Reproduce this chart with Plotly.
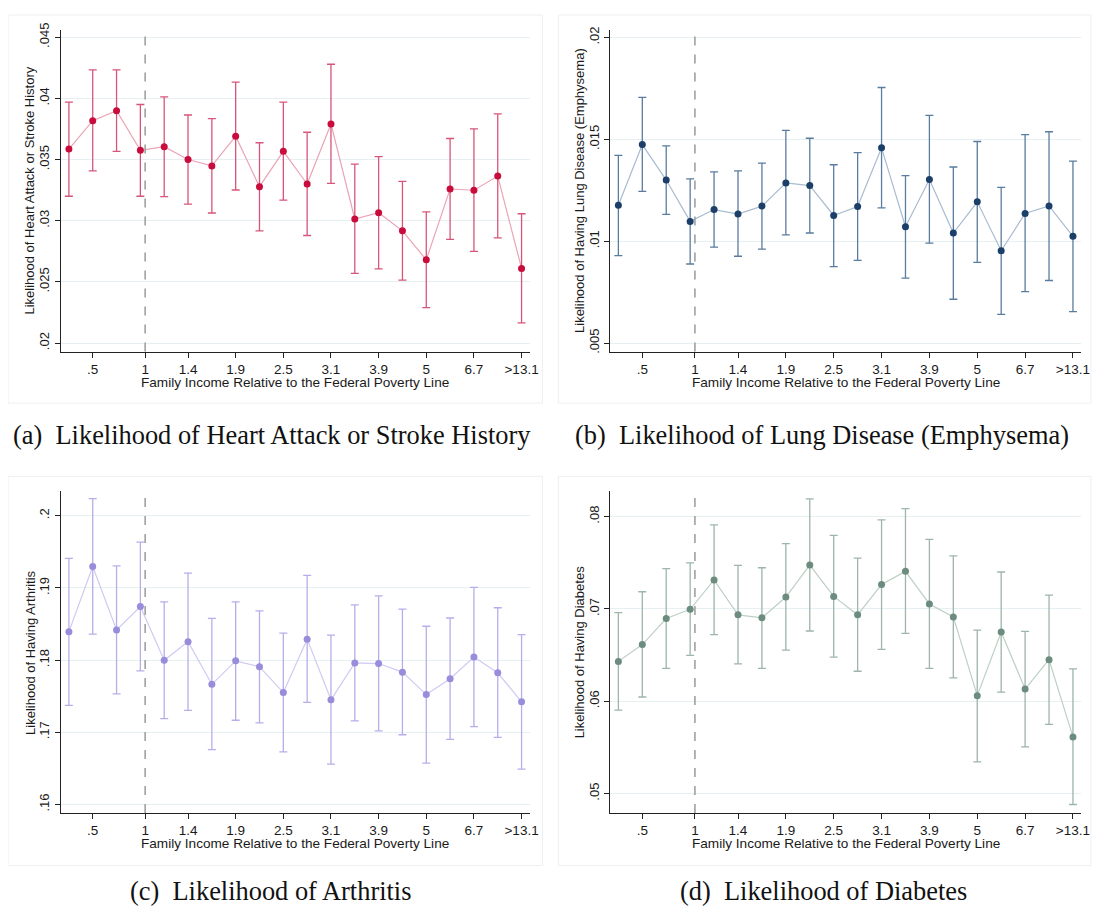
import plotly.graph_objects as go

# ---------------- data ----------------
bins = list(range(1, 21))
tick_vals = [2, 4.2, 6, 8, 10, 12, 14, 16, 18, 20]
tick_labels = [".5", "1", "1.4", "1.9", "2.5", "3.1", "3.9", "5", "6.7", ">13.1"]
poverty_line = 4.2

heart_est = [0.03586, 0.03818, 0.03899, 0.03575, 0.03605, 0.03500, 0.03448, 0.03691, 0.03278, 0.03567,
             0.03300, 0.03791, 0.03014, 0.03065, 0.02917, 0.02680, 0.03259, 0.03249, 0.03365, 0.02610]
heart_hi = [0.03969, 0.04233, 0.04233, 0.03950, 0.04012, 0.03864, 0.03834, 0.04133, 0.03637, 0.03969,
            0.03723, 0.04279, 0.03462, 0.03524, 0.03321, 0.03073, 0.03672, 0.03750, 0.03874, 0.03057]
heart_lo = [0.03200, 0.03408, 0.03567, 0.03200, 0.03197, 0.03135, 0.03063, 0.03251, 0.02917, 0.03168,
            0.02879, 0.03305, 0.02569, 0.02607, 0.02515, 0.02289, 0.02847, 0.02750, 0.02860, 0.02165]

lung_est = [0.01176, 0.01474, 0.01300, 0.01097, 0.01155, 0.01133, 0.01172, 0.01286, 0.01273, 0.01126,
            0.01170, 0.01458, 0.01071, 0.01303, 0.01040, 0.01193, 0.00953, 0.01136, 0.01173, 0.01024]
lung_hi = [0.01421, 0.01706, 0.01468, 0.01306, 0.01340, 0.01345, 0.01383, 0.01544, 0.01505, 0.01375,
           0.01435, 0.01754, 0.01322, 0.01617, 0.01364, 0.01489, 0.01264, 0.01523, 0.01537, 0.01393]
lung_lo = [0.00929, 0.01244, 0.01131, 0.00888, 0.00971, 0.00926, 0.00961, 0.01031, 0.01040, 0.00875,
           0.00906, 0.01163, 0.00819, 0.00990, 0.00715, 0.00896, 0.00641, 0.00752, 0.00807, 0.00654]

arth_est = [0.18391, 0.19296, 0.18418, 0.18743, 0.17998, 0.18254, 0.17664, 0.17989, 0.17906, 0.17550,
            0.18290, 0.17449, 0.17961, 0.17952, 0.17833, 0.17522, 0.17742, 0.18043, 0.17824, 0.17422]
arth_hi = [0.19410, 0.20238, 0.19305, 0.19634, 0.18807, 0.19205, 0.18578, 0.18807, 0.18683, 0.18373,
           0.19173, 0.18345, 0.18766, 0.18889, 0.18706, 0.18469, 0.18583, 0.19008, 0.18725, 0.18354]
arth_lo = [0.17371, 0.18359, 0.17531, 0.17851, 0.17189, 0.17303, 0.16759, 0.17166, 0.17129, 0.16727,
           0.17413, 0.16558, 0.17157, 0.17020, 0.16965, 0.16571, 0.16901, 0.17079, 0.16928, 0.16489]

diab_est = [0.06432, 0.06614, 0.06896, 0.06996, 0.07314, 0.06936, 0.06904, 0.07129, 0.07475, 0.07136,
            0.06936, 0.07264, 0.07407, 0.07054, 0.06914, 0.06061, 0.06750, 0.06132, 0.06450, 0.05614]
diab_hi = [0.06961, 0.07186, 0.07436, 0.07500, 0.07911, 0.07471, 0.07446, 0.07707, 0.08193, 0.07796,
           0.07550, 0.07964, 0.08086, 0.07754, 0.07575, 0.06771, 0.07400, 0.06757, 0.07150, 0.06350]
diab_lo = [0.05904, 0.06046, 0.06357, 0.06496, 0.06721, 0.06404, 0.06357, 0.06554, 0.06761, 0.06479,
           0.06325, 0.06561, 0.06736, 0.06357, 0.06254, 0.05343, 0.06100, 0.05507, 0.05750, 0.04882]

y_titles = ["Likelihood of Heart Attack or Stroke History",
            "Likelihood of Having Lung Disease (Emphysema)",
            "Likelihood of Having Arthritis",
            "Likelihood of Having Diabetes"]
captions = ["(a)&nbsp; Likelihood of Heart Attack or Stroke History",
            "(b)&nbsp; Likelihood of Lung Disease (Emphysema)",
            "(c)&nbsp; Likelihood of Arthritis",
            "(d)&nbsp; Likelihood of Diabetes"]
x_title = "Family Income Relative to the Federal Poverty Line"

y_ticks = [[0.02, 0.025, 0.03, 0.035, 0.04, 0.045],
           [0.005, 0.01, 0.015, 0.02],
           [0.16, 0.17, 0.18, 0.19, 0.2],
           [0.05, 0.06, 0.07, 0.08]]
y_tick_text = [[".02", ".025", ".03", ".035", ".04", ".045"],
               [".005", ".01", ".015", ".02"],
               [".16", ".17", ".18", ".19", ".2"],
               [".05", ".06", ".07", ".08"]]
y_ranges = [[0.0193, 0.0456], [0.00458, 0.02037], [0.15881, 0.2034], [0.0479, 0.08275]]

series = [(heart_est, heart_lo, heart_hi), (lung_est, lung_lo, lung_hi),
          (arth_est, arth_lo, arth_hi), (diab_est, diab_lo, diab_hi)]

# ---------------- style ----------------
OFF = 8  # page body margin
W, H = 1101 - OFF, 913 - OFF
marker_colors = ["#C80C3C", "#1B3F68", "#978DDA", "#6B8C7E"]
bar_colors = ["#D7557A", "#5A7C9E", "#B6AEEA", "#9DB5AA"]
line_colors = ["#EBA3B6", "#A8BCD1", "#CFCAF2", "#BDD0C6"]

# pixel layout (in page pixels) of plot areas: (left, right, top, bottom)
areas = [(61, 534, 23, 348), (615, 1090, 23, 348), (61, 534, 489, 814), (615, 1090, 489, 814)]
boxes = [(7, 547, 8, 400), (563, 1100, 8, 400), (7, 547, 474, 867), (563, 1100, 474, 867)]
caption_pos = [(274, 432), (829, 432), (273, 893), (830, 893)]


def px(v):
    return (v - OFF) / W


def py(v):
    return 1 - (v - OFF) / H


fig = go.Figure()
layout = dict(width=W, height=H, margin=dict(l=0, r=0, t=0, b=0),
              paper_bgcolor="white", plot_bgcolor="white", showlegend=False,
              font=dict(family="Liberation Sans, Arial, sans-serif", size=13, color="#1a1a1a"))
shapes = []
annotations = []

for i in range(4):
    est, lo, hi = series[i]
    xa = "x" if i == 0 else f"x{i+1}"
    ya = "y" if i == 0 else f"y{i+1}"
    up = [h - e for h, e in zip(hi, est)]
    dn = [e - l for e, l in zip(est, lo)]
    fig.add_trace(go.Scatter(
        x=bins, y=est, xaxis=xa, yaxis=ya, mode="lines",
        line=dict(color=line_colors[i], width=1.2), hoverinfo="skip"))
    fig.add_trace(go.Scatter(
        x=bins, y=est, xaxis=xa, yaxis=ya, mode="markers",
        marker=dict(color=marker_colors[i], size=7),
        error_y=dict(type="data", symmetric=False, array=up, arrayminus=dn,
                     color=bar_colors[i], thickness=1.3, width=4)))

    l, r, t, b = areas[i]
    xkey = "xaxis" if i == 0 else f"xaxis{i+1}"
    ykey = "yaxis" if i == 0 else f"yaxis{i+1}"
    layout[xkey] = dict(domain=[max(0, px(l)), min(1, px(r))], anchor=ya, range=[0.65, 20.34],
                        tickmode="array", tickvals=tick_vals, ticktext=tick_labels,
                        showgrid=False, zeroline=False, showline=True, linecolor="#222",
                        linewidth=1, ticks="outside", ticklen=5, tickcolor="#222",
                        tickfont=dict(size=13.5))
    layout[ykey] = dict(domain=[max(0, py(b)), min(1, py(t))], anchor=xa, range=y_ranges[i],
                        tickmode="array", tickvals=y_ticks[i], ticktext=y_tick_text[i],
                        tickangle=-90, showgrid=True, gridcolor="#E6EFF1", gridwidth=1,
                        zeroline=False, showline=True, linecolor="#222", linewidth=1,
                        ticks="outside", ticklen=5, tickcolor="#222",
                        tickfont=dict(size=13))
    # poverty line
    shapes.append(dict(type="line", xref=xa, yref=f"{ya} domain", x0=poverty_line, x1=poverty_line,
                       y0=0, y1=1, line=dict(color="#9a9a9a", width=1.5, dash="dash")))
    # panel frame
    bl, br, bt, bb = boxes[i]
    shapes.append(dict(type="rect", xref="paper", yref="paper", x0=max(0, px(bl)), x1=min(0.999, px(br)),
                       y0=py(bb), y1=py(bt), line=dict(color="#EFEFEF", width=1)))
    # axis titles
    annotations.append(dict(text=x_title, xref="paper", yref="paper",
                            x=px((l + r) / 2), y=py(b + 31), showarrow=False,
                            font=dict(size=13.6), xanchor="center", yanchor="middle"))
    annotations.append(dict(text=y_titles[i], xref="paper", yref="paper",
                            x=px(l - 31), y=py((t + b) / 2), showarrow=False, textangle=-90,
                            font=dict(size=13), xanchor="center", yanchor="middle"))
    cx, cy = caption_pos[i]
    annotations.append(dict(text=captions[i], xref="paper", yref="paper",
                            x=px(cx), y=py(cy), showarrow=False,
                            font=dict(family="Liberation Serif, Times New Roman, serif", size=26.4,
                                      color="#111"),
                            xanchor="center", yanchor="middle"))

layout["shapes"] = shapes
layout["annotations"] = annotations
fig.update_layout(**layout)
fig.write_html("out.html")
